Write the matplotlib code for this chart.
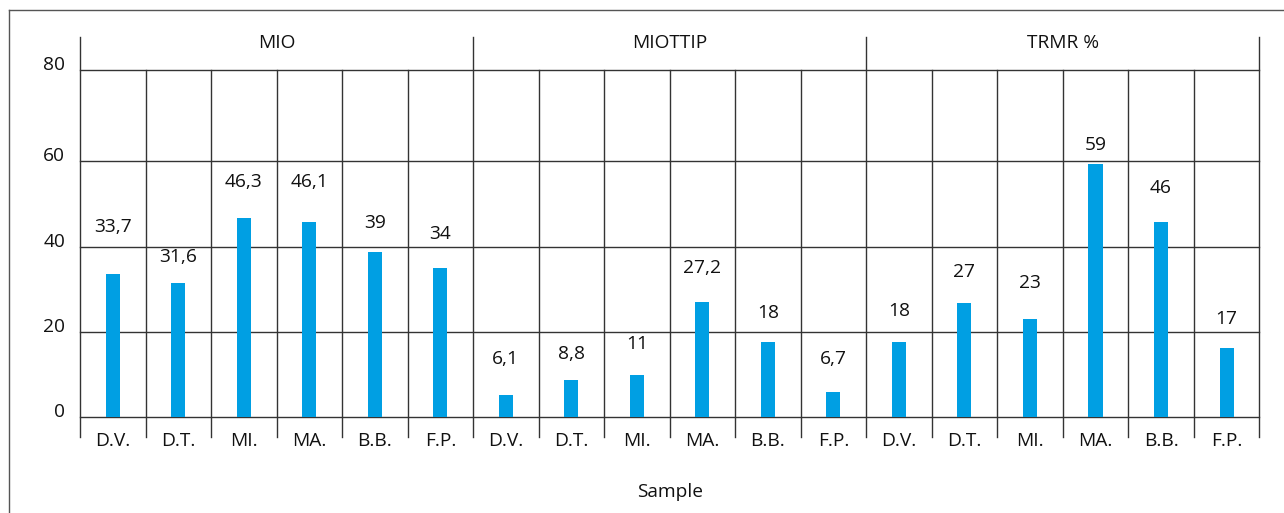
import matplotlib
matplotlib.use("Agg")
import matplotlib.pyplot as plt
import matplotlib.transforms as mtransforms
from matplotlib.lines import Line2D

# ---------------- data ----------------
groups = ["MIO", "MIOTTIP", "TRMR %"]
samples = ["D.V.", "D.T.", "MI.", "MA.", "B.B.", "F.P."]

# bar heights as drawn in the picture
mio_bars = [33.5, 31.4, 46.7, 45.8, 38.7, 34.9]
miottip_bars = [5.1, 8.6, 9.8, 26.9, 17.6, 5.8]
trmr_bars = [17.6, 26.7, 23.0, 59.4, 45.8, 16.2]

# value labels printed above the bars
mio_labels = ["33,7", "31,6", "46,3", "46,1", "39", "34"]
miottip_labels = ["6,1", "8,8", "11", "27,2", "18", "6,7"]
trmr_labels = ["18", "27", "23", "59", "46", "17"]

y_ticks = [0, 20, 40, 60]
y_tick_labels = ["0", "20", "40", "60", "80"]
x_title = "Sample"

# gap between bar top and its label (data units), as in the picture
label_gaps = [11.0, 6.2, 8.5, 9.4, 6.9, 8.0,
              8.4, 6.1, 7.3, 8.0, 6.7, 7.7,
              7.3, 7.4, 8.5, 4.5, 7.9, 6.7]

# ---------------- style ----------------
plt.rcParams['font.family'] = ['Open Sans', 'DejaVu Sans']
FS = 13.8
TXT = "#111111"
LINE = "#333333"
BAR = "#009FE3"

W, H = 1284, 513
fig = plt.figure(figsize=(W / 100, H / 100), dpi=100)
ax_left, ax_right, ax_top, ax_bot = 80, 1259.3, 70, 416.7
ax = fig.add_axes([ax_left / W, (H - ax_bot) / H, (ax_right - ax_left) / W, (ax_bot - ax_top) / H])

bars = mio_bars + miottip_bars + trmr_bars
labels = mio_labels + miottip_labels + trmr_labels
n = len(bars)
xs = list(range(n))
ymax = 81.5

ax.bar(xs, bars, width=0.214, color=BAR, zorder=3)
ax.set_xlim(-0.5, n - 0.5)
ax.set_ylim(0, ymax)

for s in ax.spines.values():
    s.set_visible(False)

# horizontal lines
for yv in y_ticks + [ymax]:
    ax.axhline(yv, color=LINE, lw=1.0, zorder=2, clip_on=False)

# vertical separators
axpx = ax_bot - ax_top
trans = mtransforms.blended_transform_factory(ax.transData, ax.transAxes)
ext_bot = -(436.7 - ax_bot) / axpx
ext_top = 1 + (ax_top - 37) / axpx
for i in range(n + 1):
    xb = i - 0.5
    top = ext_top if i % 6 == 0 else 1.0
    ax.add_line(Line2D([xb, xb], [ext_bot, top], transform=trans,
                       color=LINE, lw=1.0, clip_on=False, zorder=2))

# ticks
ax.set_yticks(y_ticks + [ymax])
ax.set_yticklabels(y_tick_labels)
ax.tick_params(axis='y', length=0, pad=10.8, labelsize=FS, labelcolor=TXT)
for t in ax.get_yticklabels():
    t.set_verticalalignment('baseline')

ax.set_xticks(xs)
ax.set_xticklabels(samples * len(groups))
ax.tick_params(axis='x', length=0, pad=20.9, labelsize=FS, labelcolor=TXT)
for t in ax.get_xticklabels():
    t.set_verticalalignment('baseline')

# value labels
for x, b, lab, g in zip(xs, bars, labels, label_gaps):
    ax.text(x, b + g, lab, ha='center', va='center', fontsize=FS, color=TXT, zorder=4)

# group labels
gy = 1 + (ax_top - 48.3) / axpx
for gi, g in enumerate(groups):
    ax.text(gi * 6 + 2.5, gy, g, transform=trans, ha='center', va='baseline',
            fontsize=FS, color=TXT)

# x title
fig.text((ax_left + ax_right) / 2 / W, (H - 496.7) / H, x_title, ha='center',
         va='baseline', fontsize=FS, color=TXT)

# outer frame (left and top edges visible)
fig.add_artist(Line2D([9 / W, 9 / W], [0, 1 - 10 / H], transform=fig.transFigure,
                      color="#555555", lw=1.0))
fig.add_artist(Line2D([9 / W, 1], [1 - 10 / H, 1 - 10 / H], transform=fig.transFigure,
                      color="#555555", lw=1.0))

fig.savefig("out.png", dpi=100)
